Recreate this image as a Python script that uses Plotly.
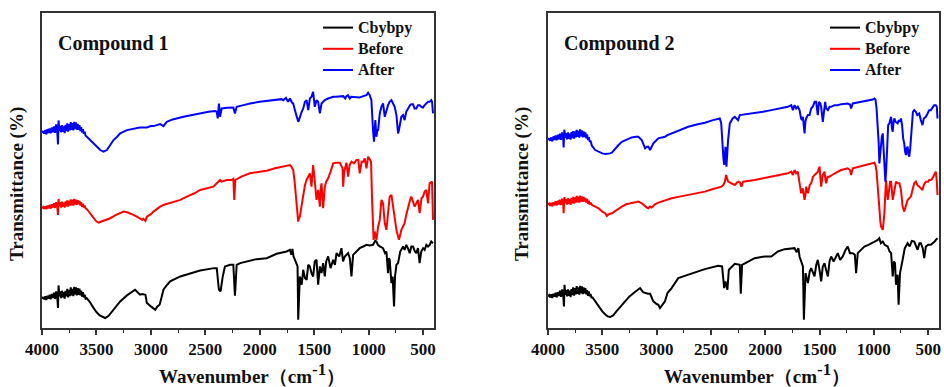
import plotly.graph_objects as go

# ---- data: (wavenumber cm^-1, transmittance a.u., offset-stacked) ----
c1_black = [(4000,88),(3990,93),(3980,86),(3970,95),(3960,84),(3950,97),(3940,88),(3930,100),(3920,86),(3910,102),
(3900,90),(3890,106),(3880,88),(3870,110),(3860,92),(3853,60),(3848,128),(3840,95),(3832,110),(3824,90),(3816,112),
(3808,92),(3800,108),(3792,88),(3784,112),(3776,95),(3768,118),(3760,92),(3752,115),(3744,96),(3736,122),(3728,98),
(3720,118),(3712,96),(3704,124),(3696,100),(3688,122),(3680,98),(3672,120),(3664,100),(3656,118),(3648,98),(3640,112),
(3632,94),(3624,108),(3616,92),(3608,100),(3600,88),(3590,90),(3560,78),(3530,62),(3500,48),(3470,38),(3440,32),(3420,30),
(3390,36),(3343,55),(3282,80),(3220,98),(3160,110),(3145,115),(3100,100),(3080,102),(3050,100),(3037,75),(3000,65),
(2976,60),(2960,55),(2940,65),(2920,70),(2900,95),(2885,115),(2850,130),(2823,140),(2730,155),(2548,173),(2420,180),
(2395,180),(2380,130),(2375,115),(2360,110),(2350,140),(2340,155),(2320,185),(2273,190),(2243,190),(2228,97),(2212,190),
(2180,195),(2030,207),(1937,210),(1845,223),(1754,230),(1723,235),(1710,220),(1700,238),(1690,215),(1677,205),(1653,185),
(1647,25),(1640,100),(1632,155),(1615,130),(1601,175),(1585,150),(1570,145),(1555,190),(1540,185),(1525,165),(1510,155),
(1495,200),(1479,205),(1464,130),(1448,185),(1433,165),(1418,195),(1403,155),(1390,200),(1372,215),(1350,180),(1326,205),
(1310,190),(1295,225),(1270,215),(1250,240),(1235,200),(1219,215),(1189,225),(1173,210),(1158,155),(1143,220),(1112,230),
(1082,240),(1050,245),(1020,250),(990,248),(960,250),(940,262),(929,260),(915,250),(898,245),(868,240),(850,225),(837,230),
(822,165),(815,210),(807,205),(791,135),(780,155),(767,65),(758,155),(745,190),(730,195),(710,230),(684,245),(670,235),
(654,250),(640,240),(623,225),(608,245),(593,245),(575,230),(562,225),(547,240),(532,195),(517,230),(500,240),(486,235),
(470,250),(455,245),(440,250),(425,260),(409,255)]

c1_before = [(4000,360),(3990,364),(3980,358),(3970,366),(3960,357),(3950,368),(3940,360),(3930,370),(3920,359),
(3910,372),(3900,362),(3890,375),(3880,361),(3870,378),(3860,364),(3853,340),(3848,388),(3840,366),(3832,378),(3824,362),
(3816,380),(3808,364),(3800,377),(3792,362),(3784,381),(3776,366),(3768,384),(3760,365),(3752,383),(3744,368),(3736,387),
(3728,369),(3720,385),(3712,368),(3704,388),(3696,371),(3688,386),(3680,370),(3672,384),(3664,372),(3656,382),(3648,368),
(3640,378),(3632,364),(3624,374),(3616,362),(3608,368),(3600,360),(3590,358),(3560,345),(3530,330),(3500,320),(3480,317),
(3450,320),(3420,325),(3373,330),(3320,340),(3282,345),(3250,350),(3220,348),(3190,345),(3160,340),(3130,335),(3100,330),
(3080,325),(3068,328),(3050,322),(3037,335),(3000,342),(2976,350),(2945,358),(2915,365),(2885,370),(2854,373),(2793,377),
(2730,385),(2670,395),(2600,405),(2548,415),(2480,420),(2426,425),(2395,435),(2380,440),(2365,445),(2350,440),(2304,445),
(2260,445),(2243,448),(2234,385),(2225,445),(2170,455),(2090,465),(2000,470),(1937,473),(1860,480),(1784,485),(1750,488),
(1723,490),(1710,485),(1693,475),(1680,440),(1662,385),(1647,320),(1640,330),(1632,335),(1615,370),(1601,405),(1585,430),
(1570,445),(1555,455),(1540,465),(1525,425),(1510,490),(1500,460),(1495,445),(1479,385),(1464,415),(1448,365),(1440,420),
(1433,435),(1418,360),(1403,425),(1390,440),(1372,450),(1350,470),(1326,495),(1300,497),(1265,497),(1240,480),(1234,425),
(1225,470),(1204,497),(1189,455),(1175,490),(1158,500),(1135,495),(1112,505),(1095,505),(1082,465),(1065,500),(1051,500),
(1036,510),(1020,480),(1005,515),(990,507),(978,500),(970,400),(962,270),(955,265),(945,290),(929,265),(913,305),(898,325),
(883,385),(868,375),(852,315),(837,295),(822,345),(807,395),(791,400),(776,365),(760,320),(745,295),(730,275),(722,265),
(710,280),(700,295),(685,305),(670,315),(655,340),(639,365),(620,385),(608,395),(593,380),(578,365),(562,375),(547,385),
(532,345),(515,390),(501,395),(486,410),(471,415),(455,375),(440,435),(425,440),(418,440),(409,325)]

c1_after = [(4000,587),(3990,592),(3980,584),(3970,595),(3960,582),(3950,598),(3940,586),(3930,600),(3920,585),
(3910,603),(3900,588),(3890,606),(3880,587),(3870,612),(3860,590),(3853,552),(3848,624),(3840,592),(3832,608),(3824,588),
(3816,610),(3808,590),(3800,606),(3792,586),(3784,611),(3776,592),(3768,615),(3760,590),(3752,613),(3744,594),(3736,619),
(3728,596),(3720,616),(3712,594),(3704,620),(3696,598),(3688,618),(3680,596),(3672,614),(3664,596),(3656,610),(3648,592),
(3640,604),(3632,588),(3624,598),(3616,584),(3608,590),(3600,578),(3588,575),(3560,565),(3526,555),(3495,545),(3465,535),
(3435,530),(3404,535),(3375,550),(3343,565),(3310,575),(3282,585),(3220,595),(3160,600),(3100,603),(3037,603),(3000,607),
(2976,607),(2950,610),(2930,613),(2915,613),(2900,610),(2885,607),(2854,620),(2800,627),(2701,635),(2600,642),(2548,645),
(2470,650),(2411,652),(2395,650),(2386,630),(2375,675),(2365,635),(2350,660),(2300,662),(2243,663),(2228,645),(2212,665),
(2150,670),(2090,675),(2000,680),(1937,683),(1880,686),(1845,687),(1800,688),(1784,685),(1760,692),(1740,680),(1723,690),
(1705,678),(1693,675),(1677,655),(1662,640),(1647,620),(1640,625),(1632,635),(1615,650),(1601,660),(1585,680),(1570,685),
(1555,655),(1540,690),(1525,695),(1510,710),(1500,680),(1495,665),(1479,685),(1464,680),(1448,645),(1440,670),(1433,675),
(1418,680),(1403,685),(1372,690),(1340,693),(1326,695),(1300,695),(1265,695),(1234,697),(1215,690),(1204,697),(1190,700),
(1173,690),(1160,695),(1143,695),(1112,693),(1082,693),(1050,697),(1020,700),(1005,707),(990,700),(975,685),(968,630),
(960,595),(951,560),(945,600),(939,625),(929,575),(920,595),(913,595),(898,645),(883,665),(868,675),(852,635),(837,655),
(822,670),(807,680),(791,685),(776,675),(761,665),(745,640),(730,585),(722,595),(715,605),(700,635),(684,640),(670,625),
(655,650),(639,660),(620,670),(608,673),(593,673),(578,660),(562,660),(547,670),(532,670),(517,665),(501,663),(486,670),
(471,675),(455,680),(440,680),(425,685),(418,680),(409,645)]

c2_black = [(4000,95),(3990,99),(3980,92),(3970,101),(3960,90),(3950,103),(3940,94),(3930,106),(3920,92),(3910,108),
(3900,96),(3890,112),(3880,94),(3870,116),(3860,98),(3853,65),(3848,130),(3840,100),(3832,114),(3824,95),(3816,116),
(3808,97),(3800,112),(3792,93),(3784,117),(3776,99),(3768,122),(3760,97),(3752,120),(3744,101),(3736,126),(3728,103),
(3720,122),(3712,100),(3704,127),(3696,104),(3688,125),(3680,102),(3672,122),(3664,104),(3656,120),(3648,101),(3640,114),
(3632,97),(3624,110),(3616,95),(3608,102),(3600,92),(3590,92),(3560,78),(3530,62),(3500,50),(3470,40),(3450,35),(3428,33),
(3400,38),(3370,50),(3343,60),(3300,78),(3250,95),(3200,108),(3152,120),(3125,108),(3106,105),(3080,103),(3060,103),
(3030,80),(3000,72),(2984,70),(2969,60),(2950,70),(2923,80),(2900,105),(2862,120),(2801,150),(2709,160),(2556,177),
(2433,187),(2397,185),(2378,120),(2366,140),(2348,115),(2335,175),(2280,193),(2234,190),(2225,103),(2213,190),(2097,210),
(2005,215),(1944,215),(1883,230),(1821,237),(1760,240),(1730,240),(1710,228),(1695,240),(1684,215),(1653,185),(1644,25),
(1636,120),(1629,165),(1607,135),(1590,170),(1577,180),(1560,165),(1546,155),(1530,190),(1516,205),(1500,175),(1485,140),
(1470,185),(1454,195),(1440,175),(1423,155),(1408,200),(1393,215),(1370,200),(1350,215),(1332,225),(1310,205),(1286,215),
(1260,235),(1240,245),(1220,225),(1194,225),(1175,220),(1163,165),(1148,225),(1120,235),(1087,245),(1050,250),(1026,255),
(1000,258),(980,262),(964,265),(950,270),(935,255),(918,260),(900,250),(872,245),(855,230),(841,225),(826,155),(815,200),
(805,195),(796,130),(781,160),(772,70),(759,165),(745,195),(735,205),(715,240),(689,255),(670,245),(650,262),(628,260),
(610,245),(597,235),(580,255),(567,255),(550,240),(536,210),(521,245),(500,250),(475,250),(455,255),(440,260),(429,265),
(414,270)]

c2_before = [(4000,370),(3990,374),(3980,367),(3970,376),(3960,366),(3950,378),(3940,369),(3930,381),(3920,368),
(3910,383),(3900,371),(3890,386),(3880,370),(3870,389),(3860,373),(3856,345),(3850,393),(3840,375),(3832,388),(3824,371),
(3816,390),(3808,373),(3800,387),(3792,370),(3784,391),(3776,375),(3768,394),(3760,374),(3752,393),(3744,377),(3736,397),
(3728,378),(3720,395),(3712,377),(3704,398),(3696,380),(3688,396),(3680,379),(3672,394),(3664,380),(3656,391),(3648,377),
(3640,388),(3632,373),(3624,383),(3616,371),(3608,377),(3596,370),(3565,365),(3535,360),(3500,350),(3474,345),(3458,337),
(3440,342),(3412,345),(3370,355),(3321,365),(3280,372),(3229,375),(3190,378),(3168,380),(3137,375),(3106,365),(3090,362),
(3076,360),(3060,365),(3045,362),(3015,372),(2984,377),(2920,385),(2862,390),(2790,395),(2709,400),(2630,405),(2556,410),
(2480,418),(2403,425),(2385,430),(2372,440),(2360,460),(2350,450),(2342,440),(2311,435),(2280,430),(2265,435),(2250,440),
(2234,438),(2219,425),(2204,440),(2150,442),(2097,445),(2020,450),(1944,455),(1870,462),(1791,465),(1760,470),(1745,460),
(1730,475),(1715,465),(1700,470),(1684,435),(1669,405),(1655,420),(1638,385),(1630,400),(1623,425),(1607,405),(1590,430),
(1577,435),(1560,455),(1545,460),(1531,465),(1515,470),(1500,485),(1492,450),(1485,425),(1470,460),(1454,470),(1445,445),
(1439,435),(1425,455),(1408,455),(1385,460),(1362,465),(1330,470),(1301,475),(1270,478),(1240,480),(1220,475),(1209,460),
(1194,480),(1160,483),(1118,485),(1080,490),(1040,493),(1026,495),(1010,495),(995,497),(985,490),(975,470),(964,425),
(955,380),(949,345),(940,320),(934,305),(926,300),(918,295),(910,320),(903,345),(895,400),(887,445),(880,415),(872,385),
(865,400),(857,425),(850,440),(841,440),(833,415),(826,385),(815,405),(805,430),(796,440),(781,435),(765,435),(750,415),
(735,365),(720,350),(705,370),(689,385),(674,390),(659,395),(640,420),(628,435),(613,440),(600,430),(582,425),(567,420),
(552,415),(540,430),(521,440),(500,440),(490,445),(475,445),(460,450),(445,460),(429,470),(420,440),(414,400)]

c2_after = [(4000,565),(3990,570),(3980,563),(3970,573),(3960,561),(3950,576),(3940,565),(3930,579),(3920,564),
(3910,581),(3900,567),(3890,584),(3880,566),(3870,588),(3860,569),(3856,543),(3850,596),(3840,571),(3832,586),(3824,567),
(3816,588),(3808,569),(3800,584),(3792,566),(3784,589),(3776,571),(3768,592),(3760,569),(3752,591),(3744,573),(3736,596),
(3728,575),(3720,593),(3712,572),(3704,597),(3696,576),(3688,594),(3680,573),(3672,591),(3664,574),(3656,588),(3648,570),
(3640,582),(3632,565),(3624,574),(3616,560),(3608,563),(3596,548),(3565,535),(3535,530),(3500,525),(3474,523),(3458,523),
(3430,525),(3412,527),(3380,540),(3351,550),(3320,560),(3290,565),(3229,573),(3190,575),(3168,575),(3137,565),(3120,550),
(3106,540),(3090,545),(3076,545),(3060,535),(3045,545),(3030,555),(3000,565),(2984,570),(2950,573),(2923,575),(2900,580),
(2862,585),(2780,595),(2709,605),(2630,612),(2556,617),(2480,625),(2418,630),(2405,615),(2397,565),(2385,510),(2378,490),
(2372,520),(2366,545),(2357,485),(2348,540),(2342,565),(2326,615),(2300,630),(2280,635),(2265,630),(2250,625),(2234,640),
(2170,643),(2097,645),(2020,650),(1944,655),(1870,660),(1791,665),(1760,670),(1745,655),(1730,670),(1715,660),(1700,665),
(1684,655),(1670,630),(1663,625),(1653,635),(1645,595),(1638,585),(1630,620),(1623,630),(1607,640),(1592,640),(1577,660),
(1562,665),(1545,680),(1531,680),(1516,640),(1505,680),(1492,675),(1485,665),(1470,620),(1460,650),(1448,680),(1439,660),
(1423,655),(1408,665),(1393,665),(1362,670),(1332,670),(1301,673),(1270,675),(1240,675),(1220,672),(1209,660),(1194,675),
(1160,677),(1118,680),(1080,682),(1040,683),(1026,685),(1010,687),(995,690),(985,687),(975,660),(964,615),(955,555),
(949,495),(940,530),(934,555),(926,575),(918,585),(910,530),(903,505),(894,440),(887,470),(878,565),(868,610),(857,615),
(850,625),(841,635),(833,600),(826,590),(818,620),(811,630),(800,620),(781,615),(770,625),(760,620),(750,630),(740,610),
(730,570),(720,555),(712,530),(704,520),(697,540),(689,545),(680,520),(674,515),(665,540),(659,570),(650,625),(640,650),
(628,655),(613,650),(600,640),(582,645),(567,625),(552,610),(540,630),(521,635),(505,645),(490,655),(475,655),(460,665),
(445,670),(429,670),(420,665),(414,630)]

series_names = ["Cbybpy", "Before", "After"]
series_colors = ["#000000", "#ff0000", "#0000ff"]
panel_titles = ["Compound 1", "Compound 2"]
x_ticks = [4000, 3500, 3000, 2500, 2000, 1500, 1000, 500]

SERIF = "Liberation Serif, Times New Roman, serif"

fig = go.Figure()
panels = [[c1_black, c1_before, c1_after], [c2_black, c2_before, c2_after]]
for p, data in enumerate(panels):
    xa = "x" if p == 0 else "x2"
    ya = "y" if p == 0 else "y2"
    lg = "legend" if p == 0 else "legend2"
    for s, pts in enumerate(data):
        fig.add_trace(go.Scatter(
            x=[a for a, b in pts], y=[b for a, b in pts], mode="lines",
            line=dict(color=series_colors[s], width=2),
            name='<span style="font-size:16px">' + series_names[s] + '</span>',
            xaxis=xa, yaxis=ya, legend=lg))

xcommon = dict(range=[4000, 400], tickvals=x_ticks, ticks="outside", ticklen=5, tickwidth=1.5,
               tickcolor="#333", showline=True, linecolor="#333", linewidth=1.5, mirror=True,
               showgrid=False, zeroline=False, automargin=False,
               tickfont=dict(family=SERIF, size=17, color="#111", weight="bold"),
               minor=dict(dtick=250, ticks="outside", ticklen=3, tickwidth=1.2, tickcolor="#333"))
ycommon = dict(range=[0, 947], showticklabels=False, ticks="", showline=True, linecolor="#333",
               linewidth=1.5, mirror=True, showgrid=False, zeroline=False, automargin=False)

dom_y = [1 - 328/387, 1 - 13/387]
legcommon = dict(xanchor="left", yanchor="top", bgcolor="rgba(0,0,0,0)",
                 font=dict(family=SERIF, size=14, color="#111", weight="bold"), tracegroupgap=0, itemwidth=30)
fig.update_layout(
    width=944, height=387, margin=dict(l=0, r=0, t=0, b=0, autoexpand=False),
    paper_bgcolor="white", plot_bgcolor="white",
    xaxis=dict(domain=[42/944, 434/944], anchor="y", **xcommon),
    yaxis=dict(domain=dom_y, anchor="x", **ycommon),
    xaxis2=dict(domain=[548/944, 939/944], anchor="y2", **xcommon),
    yaxis2=dict(domain=dom_y, anchor="x2", **ycommon),
    legend=dict(x=318/944, y=1 - 12/387, **legcommon),
    legend2=dict(x=825/944, y=1 - 12/387, **legcommon),
    showlegend=True,
)

ann = []
xt_centers = [252/944, 757/944]
for p in range(2):
    xl = 42/944 if p == 0 else 548/944
    ann.append(dict(text="<b>" + panel_titles[p] + "</b>", x=xl + 14/944, y=1 - 43/387, xref="paper", yref="paper",
                    xanchor="left", yanchor="middle", showarrow=False,
                    font=dict(family=SERIF, size=20, color="#111")))
    ann.append(dict(text='<b>Wavenumber（cm<sup><span style="font-size:17px">-1</span></sup>）</b>',
                    x=xt_centers[p], y=1 - 373/387, xref="paper",
                    yref="paper", xanchor="center", yanchor="middle", showarrow=False,
                    font=dict(family=SERIF, size=19, color="#111")))
    ann.append(dict(text="<b>Transmittance (%)</b>", x=(17 if p == 0 else 522)/944, y=1 - 184/387,
                    xref="paper", yref="paper", xanchor="center", yanchor="middle", showarrow=False, textangle=-90,
                    font=dict(family=SERIF, size=19, color="#111")))
fig.update_layout(annotations=ann)

fig.write_html("out.html")
